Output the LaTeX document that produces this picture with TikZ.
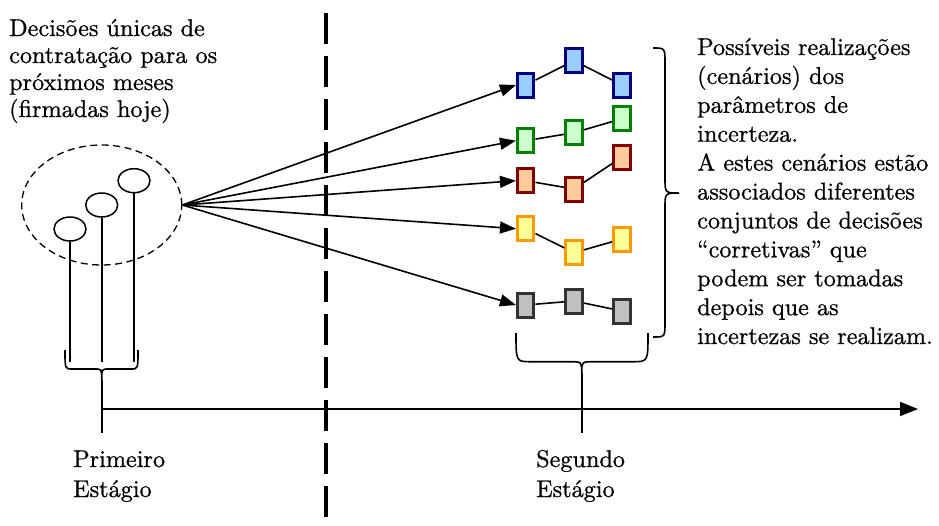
\documentclass[tikz,border=0pt]{standalone}
\usepackage{fontspec}
\setmainfont{lmroman10}[Extension=.otf, UprightFont=*-regular, UprightFeatures={FakeBold=0.8}]
\usetikzlibrary{arrows.meta,shapes.geometric}

\definecolor{bluefill}{HTML}{99CCFF}\definecolor{blueline}{HTML}{000080}
\definecolor{greenfill}{HTML}{CCFFCC}\definecolor{greenline}{HTML}{008000}
\definecolor{redfill}{HTML}{FFCC99}\definecolor{redline}{HTML}{800000}
\definecolor{yellowfill}{HTML}{FFFF99}\definecolor{yellowline}{HTML}{FF9900}
\definecolor{grayfill}{HTML}{C0C0C0}\definecolor{grayline}{HTML}{333333}

\begin{document}
\begin{tikzpicture}[x=1pt,y=-1pt,
  txt/.style={anchor=base west, inner sep=0pt, font=\rmfamily\fontsize{24.2}{30}\selectfont},
  scen/.style={draw, line width=3pt, minimum width=16.5pt, minimum height=24pt, inner sep=0pt},
  sblue/.style={scen, draw=blueline, fill=bluefill},
  sgreen/.style={scen, draw=greenline, fill=greenfill},
  sred/.style={scen, draw=redline, fill=redfill},
  syellow/.style={scen, draw=yellowline, fill=yellowfill},
  sgray/.style={scen, draw=grayline, fill=grayfill},
  link/.style={line width=1.6pt},
  fan/.style={line width=1.6pt, -{Triangle[length=16pt,width=12pt]}},
  stem/.style={line width=1.6pt},
  bracepath/.style={line width=1.6pt},
  decision/.style={draw, ellipse, line width=1.5pt, minimum width=32pt, minimum height=24pt, inner sep=0pt},
]
\useasboundingbox (0,0) rectangle (939,525);

% first-stage decisions
\node[draw, ellipse, dashed, dash pattern=on 7pt off 4.5pt, line width=1.3pt,
      minimum width=160pt, minimum height=120pt, inner sep=0pt] (group) at (101.7,205) {};
\node[decision] (d1) at (70,229) {};
\node[decision] (d2) at (101.7,205) {};
\node[decision] (d3) at (134,180.7) {};
\coordinate (s1) at (70,362);
\coordinate (s2) at (101.7,362);
\coordinate (s3) at (134,362);
\draw[stem] (d1.south) -- (s1);
\draw[stem] (d2.south) -- (s2);
\draw[stem] (d3.south) -- (s3);

% brace joining the first-stage decisions
\coordinate (lb) at (101.7,380);
\coordinate (lbend) at (101.7,433);
\draw[bracepath] (65,350) .. controls (65,369) .. (72,369) -- (94.7,369)
  .. controls (101.7,369) .. (lb) .. controls (101.7,369) .. (108.7,369)
  -- (131,369) .. controls (138,369) .. (138,350);
\draw[stem] (lb) -- (lbend);

% time axis
\coordinate (ax0) at (101.7,409);
\coordinate (ax1) at (918,409);
\draw[line width=1.6pt, -{Triangle[length=18pt,width=14pt]}] (ax0) -- (ax1);

% stage separator
\coordinate (sep0) at (326,13);
\coordinate (sep1) at (326,525);
\draw[line width=3.5pt, dash pattern=on 31pt off 12pt] (sep0) -- (sep1);

% scenarios
\node[sblue] (b1) at (525.7,85) {};
\node[sblue] (b2) at (574,60.7) {};
\node[sblue] (b3) at (622,85) {};
\node[sgreen] (g1) at (525.7,140.7) {};
\node[sgreen] (g2) at (574,132.7) {};
\node[sgreen] (g3) at (622,118.7) {};
\node[sred] (r1) at (525.7,180.7) {};
\node[sred] (r2) at (574,189) {};
\node[sred] (r3) at (622,157) {};
\node[syellow] (y1) at (525.7,228.7) {};
\node[syellow] (y2) at (574,252.7) {};
\node[syellow] (y3) at (622,239) {};
\node[sgray] (k1) at (525.7,305) {};
\node[sgray] (k2) at (574,301) {};
\node[sgray] (k3) at (622,311) {};

\foreach \a/\b in {b1/b2,b2/b3,g1/g2,g2/g3,r1/r2,r2/r3,y1/y2,y2/y3,k1/k2,k2/k3}
  \draw[link] (\a) -- (\b);
\foreach \s in {b1,g1,r1,y1,k1}
  \draw[fan] (group.east) -- (\s.west);

% brace over the scenario set
\draw[bracepath] (653,48) .. controls (665,48) .. (665,63) -- (665,178)
  .. controls (665,193) .. (679,193) .. controls (665,193) .. (665,208)
  -- (665,322) .. controls (665,337) .. (653,337);

% brace joining the second-stage decisions
\coordinate (mb) at (581.7,373);
\coordinate (mbend) at (581.7,433);
\draw[bracepath] (516,333) .. controls (516,361.7) .. (531,361.7) -- (569.7,361.7)
  .. controls (581.7,361.7) .. (mb) .. controls (581.7,361.7) .. (593.7,361.7)
  -- (633,361.7) .. controls (648,361.7) .. (648,333);
\draw[stem] (mb) -- (mbend);

% texts
\foreach \t [count=\i] in {Decisões únicas de, contratação para os, próximos meses, (firmadas hoje)}
  \node[txt] (lt\i) at (9,{36+27*(\i-1)}) {\t};
\foreach \t [count=\i] in {Possíveis realizações, (cenários) dos, parâmetros de, incerteza.,
    A estes cenários estão, associados diferentes, conjuntos de decisões, “corretivas” que,
    podem ser tomadas, depois que as, incertezas se realizam.}
  \node[txt] (rt\i) at (697,{55+28.9*(\i-1)}) {\t};
\node[txt] (p1) at (73,467) {Primeiro};
\node[txt] (p2) at (73,497) {Estágio};
\node[txt] (q1) at (536,467) {Segundo};
\node[txt] (q2) at (536,497) {Estágio};
\end{tikzpicture}
\end{document}
